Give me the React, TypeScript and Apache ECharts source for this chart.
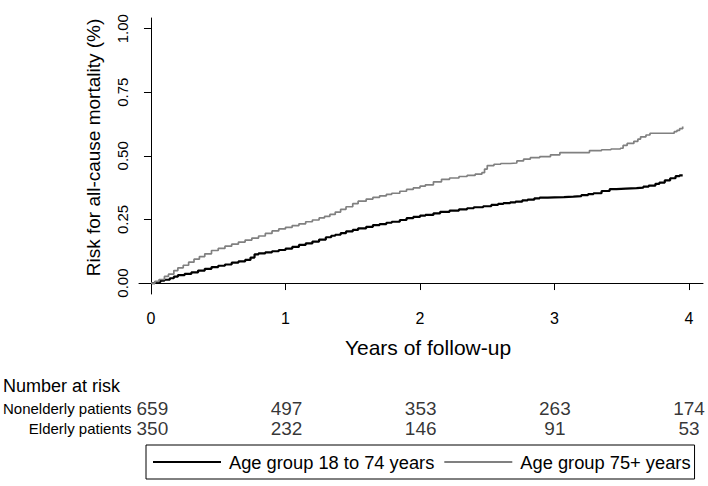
import React, { useEffect, useRef } from "react";
import * as echarts from "echarts";

// Cumulative all-cause mortality risk (step curves)
const timesYoung = [0, 0.03, 0.07, 0.1, 0.14, 0.17, 0.2, 0.25, 0.3, 0.35, 0.4, 0.45, 0.5, 0.55, 0.6, 0.65, 0.7, 0.74, 0.77, 0.8, 0.85, 0.9, 0.95, 1.0, 1.05, 1.1, 1.15, 1.2, 1.25, 1.3, 1.34, 1.37, 1.41, 1.45, 1.5, 1.54, 1.6, 1.65, 1.7, 1.75, 1.79, 1.85, 1.9, 1.95, 2.0, 2.04, 2.1, 2.15, 2.22, 2.29, 2.35, 2.4, 2.47, 2.53, 2.58, 2.62, 2.67, 2.71, 2.76, 2.8, 2.85, 2.89, 2.95, 3.0, 3.07, 3.14, 3.2, 3.25, 3.29, 3.35, 3.41, 3.46, 3.53, 3.61, 3.66, 3.7, 3.75, 3.78, 3.82, 3.86, 3.9, 3.93, 3.953];
const riskYoung = [0, 0.004, 0.009, 0.013, 0.019, 0.025, 0.031, 0.036, 0.042, 0.049, 0.056, 0.063, 0.068, 0.073, 0.08, 0.085, 0.091, 0.1, 0.113, 0.117, 0.121, 0.125, 0.13, 0.135, 0.142, 0.15, 0.156, 0.163, 0.171, 0.18, 0.186, 0.19, 0.196, 0.203, 0.209, 0.215, 0.221, 0.228, 0.232, 0.237, 0.241, 0.248, 0.255, 0.26, 0.265, 0.268, 0.274, 0.28, 0.285, 0.29, 0.294, 0.298, 0.302, 0.307, 0.311, 0.314, 0.317, 0.32, 0.325, 0.328, 0.333, 0.336, 0.337, 0.338, 0.34, 0.342, 0.346, 0.35, 0.353, 0.362, 0.369, 0.371, 0.373, 0.375, 0.379, 0.383, 0.39, 0.395, 0.404, 0.412, 0.42, 0.423, 0.425];
const timesOld = [0, 0.03, 0.06, 0.1, 0.13, 0.17, 0.2, 0.24, 0.28, 0.32, 0.36, 0.4, 0.45, 0.5, 0.55, 0.6, 0.65, 0.7, 0.75, 0.8, 0.85, 0.9, 0.95, 1.0, 1.05, 1.1, 1.15, 1.2, 1.25, 1.29, 1.33, 1.37, 1.41, 1.45, 1.5, 1.54, 1.6, 1.65, 1.7, 1.75, 1.79, 1.85, 1.9, 1.95, 2.0, 2.04, 2.1, 2.16, 2.22, 2.29, 2.35, 2.41, 2.46, 2.48, 2.5, 2.55, 2.6, 2.67, 2.72, 2.77, 2.82, 2.89, 2.97, 3.04, 3.24, 3.26, 3.35, 3.42, 3.49, 3.51, 3.54, 3.59, 3.62, 3.64, 3.68, 3.71, 3.86, 3.89, 3.91, 3.93, 3.953];
const riskOld = [0, 0.007, 0.014, 0.026, 0.035, 0.049, 0.06, 0.07, 0.082, 0.094, 0.104, 0.115, 0.128, 0.136, 0.145, 0.153, 0.161, 0.169, 0.177, 0.185, 0.195, 0.205, 0.213, 0.219, 0.226, 0.233, 0.241, 0.248, 0.256, 0.262, 0.27, 0.279, 0.29, 0.3, 0.312, 0.322, 0.33, 0.337, 0.343, 0.349, 0.353, 0.361, 0.368, 0.374, 0.381, 0.386, 0.398, 0.408, 0.413, 0.419, 0.423, 0.428, 0.434, 0.448, 0.462, 0.467, 0.47, 0.472, 0.48, 0.487, 0.493, 0.497, 0.504, 0.513, 0.513, 0.521, 0.524, 0.527, 0.53, 0.541, 0.549, 0.557, 0.566, 0.575, 0.582, 0.589, 0.589, 0.595, 0.6, 0.607, 0.615];

const xTicks = [0, 1, 2, 3, 4];
const yTicks = [0, 0.25, 0.5, 0.75, 1];

const seriesNames = ["Age group 18 to 74 years", "Age group 75+ years"];

const riskRows = ["Nonelderly patients", "Elderly patients"];
const riskTimes = [0, 1, 2, 3, 4];
const atRiskNonelderly = [659, 497, 353, 263, 174];
const atRiskElderly = [350, 232, 146, 91, 53];

const FONT = "'Liberation Sans', Arial, Helvetica, sans-serif";

const X_MIN = -0.089;
const X_MAX = 4.104;

export default function App() {
  const ref = useRef<HTMLDivElement>(null);

  useEffect(() => {
    document.body.style.margin = "0";
    const chart = echarts.init(ref.current!, undefined, { renderer: "svg" });

    const young = timesYoung.map((t, i) => [t, riskYoung[i]]);
    const old = timesOld.map((t, i) => [t, riskOld[i]]);
    const tableData: any[] = [];
    riskTimes.forEach((t, i) => {
      tableData.push([t, riskRows[0], atRiskNonelderly[i]]);
      tableData.push([t, riskRows[1], atRiskElderly[i]]);
    });

    chart.setOption({
      animation: false,
      backgroundColor: "#ffffff",
      textStyle: { fontFamily: FONT },
      grid: [
        { left: 139, top: 18, width: 564, height: 276 },
        { left: 139, top: 398, width: 564, height: 40 },
      ],
      xAxis: [
        {
          type: "value",
          gridIndex: 0,
          min: X_MIN,
          max: X_MAX,
          splitLine: { show: false },
          axisLine: { show: true, lineStyle: { color: "#000", width: 1 } },
          axisTick: { show: true, length: 7, customValues: xTicks, lineStyle: { color: "#000" } },
          axisLabel: {
            customValues: xTicks,
            fontSize: 16,
            color: "#000",
            margin: 16,
            fontFamily: FONT,
          },
          name: "Years of follow-up",
          nameLocation: "middle",
          nameGap: 43,
          nameTextStyle: { fontSize: 21, color: "#000", fontFamily: FONT, padding: [0, 0, 0, 14] },
        },
        {
          type: "value",
          gridIndex: 1,
          min: X_MIN,
          max: X_MAX,
          show: false,
        },
      ],
      yAxis: [
        {
          type: "value",
          gridIndex: 0,
          min: -0.043,
          max: 1.042,
          splitLine: { show: false },
          axisLine: { show: true, lineStyle: { color: "#000", width: 1 } },
          axisTick: { show: true, length: 7, customValues: yTicks, lineStyle: { color: "#000" } },
          axisLabel: {
            customValues: yTicks,
            rotate: 90,
            fontSize: 15,
            color: "#000",
            margin: 9,
            fontFamily: FONT,
            formatter: (v: number) => v.toFixed(2),
          },
          name: "Risk for all-cause mortality (%)",
          nameLocation: "middle",
          nameGap: 36,
          nameTextStyle: { fontSize: 19, color: "#000", fontFamily: FONT, padding: [0, 0, 0, 17] },
        },
        {
          type: "category",
          gridIndex: 1,
          data: riskRows,
          inverse: true,
          axisLine: { show: false },
          axisTick: { show: false },
          splitLine: { show: false },
          axisLabel: { fontSize: 15, color: "#000", margin: 9, fontFamily: FONT },
        },
      ],
      legend: {
        show: true,
        data: seriesNames,
        left: 146,
        top: 445,
        orient: "horizontal",
        selectedMode: false,
        icon: "rect",
        itemWidth: 68,
        itemHeight: 2,
        itemGap: 10,
        padding: [8, 4, 8, 7],
        borderColor: "#000",
        borderWidth: 1,
        textStyle: { fontSize: 18.3, color: "#000", fontFamily: FONT, padding: [0, 0, 0, 3], lineHeight: 18 },
      },
      graphic: [
        {
          type: "text",
          left: 3,
          top: 377,
          style: { text: "Number at risk", fontSize: 18, fill: "#000", fontFamily: FONT },
        },
      ],
      series: [
        {
          name: seriesNames[0],
          type: "line",
          xAxisIndex: 0,
          yAxisIndex: 0,
          step: "end",
          data: young,
          showSymbol: false,
          symbol: "none",
          lineStyle: { color: "#000000", width: 2.2 },
          itemStyle: { color: "#000000" },
        },
        {
          name: seriesNames[1],
          type: "line",
          xAxisIndex: 0,
          yAxisIndex: 0,
          step: "end",
          data: old,
          showSymbol: false,
          symbol: "none",
          lineStyle: { color: "#808080", width: 1.7 },
          itemStyle: { color: "#808080" },
        },
        {
          type: "scatter",
          xAxisIndex: 1,
          yAxisIndex: 1,
          data: tableData,
          symbolSize: 1,
          itemStyle: { color: "rgba(0,0,0,0)" },
          label: {
            show: true,
            position: "inside",
            formatter: (p: any) => String(p.value[2]),
            fontSize: 19,
            color: "#000",
            fontFamily: FONT,
          },
          silent: true,
        },
      ],
    });

    return () => chart.dispose();
  }, []);

  return <div ref={ref} style={{ width: 708, height: 486 }} />;
}
